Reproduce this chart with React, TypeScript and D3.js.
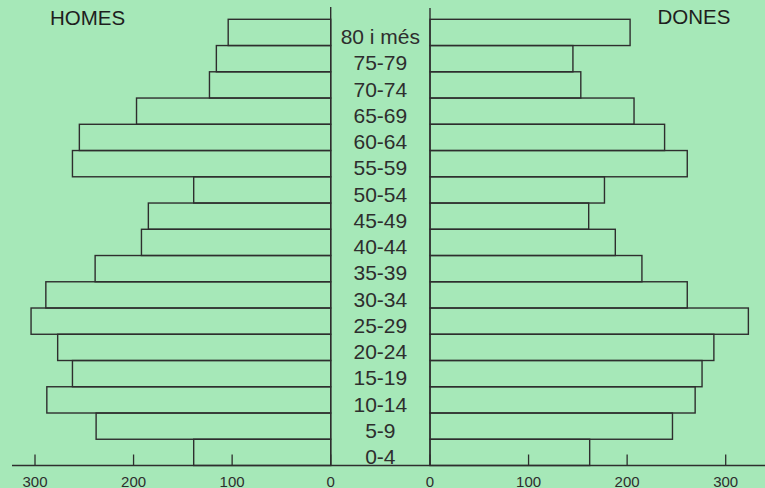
import React from "react";
import * as d3 from "d3";

const ageGroups = ["80 i més", "75-79", "70-74", "65-69", "60-64", "55-59", "50-54", "45-49", "40-44", "35-39", "30-34", "25-29", "20-24", "15-19", "10-14", "5-9", "0-4"];
const homes = [104, 116, 123, 197, 255, 262, 139, 185, 192, 239, 289, 304, 277, 262, 288, 238, 139];
const dones = [203, 145, 153, 207, 238, 261, 177, 161, 188, 215, 261, 323, 288, 276, 269, 246, 162];
const tickValues = [0, 100, 200, 300];

const W = 765;
const H = 488;
const FONT = "'Liberation Sans', Arial, Helvetica, sans-serif";
const INK = "#2e2e2e";
const BG = "#a6e8b8";

export default function App() {
  React.useEffect(() => {
    document.body.style.margin = "0";
    document.body.style.background = BG;
  }, []);

  const baseY = 465.5;
  const y = d3.scaleBand<string>().domain(ageGroups).range([19.3, baseY]).padding(0);
  const xL = d3.scaleLinear().domain([0, 300]).range([330.7, 35]);
  const xR = d3.scaleLinear().domain([0, 300]).range([430, 725.7]);
  const midX = (xL(0) + xR(0)) / 2;

  return (
    <svg width={W} height={H} style={{ position: "absolute", left: 0, top: 0, display: "block" }}>
      <rect x={0} y={0} width={W} height={H} fill={BG} />
      {/* bars */}
      {ageGroups.map((g, i) => (
        <g key={g}>
          <rect
            x={xL(homes[i])}
            y={y(g)}
            width={xL(0) - xL(homes[i])}
            height={y.bandwidth()}
            fill="none"
            stroke={INK}
            strokeWidth={1.4}
          />
          <rect
            x={xR(0)}
            y={y(g)}
            width={xR(dones[i]) - xR(0)}
            height={y.bandwidth()}
            fill="none"
            stroke={INK}
            strokeWidth={1.4}
          />
          <text
            x={midX}
            y={(y(g) as number) + y.bandwidth() - 1.3}
            textAnchor="middle"
            fontFamily={FONT}
            fontSize={21}
            fill={INK}
          >
            {g}
          </text>
        </g>
      ))}
      {/* vertical axes */}
      <line x1={xL(0)} x2={xL(0)} y1={7} y2={baseY} stroke={INK} strokeWidth={1.4} />
      <line x1={xR(0)} x2={xR(0)} y1={8} y2={baseY} stroke={INK} strokeWidth={1.4} />
      {/* baseline */}
      <line x1={12} x2={W} y1={baseY} y2={baseY} stroke={INK} strokeWidth={1.6} />
      {/* ticks */}
      {tickValues.map((t) => (
        <g key={"l" + t}>
          <line x1={xL(t)} x2={xL(t)} y1={baseY - 11} y2={baseY} stroke={INK} strokeWidth={1.3} />
          <text x={xL(t)} y={486.5} textAnchor="middle" fontFamily={FONT} fontSize={15} fill={INK}>
            {t}
          </text>
        </g>
      ))}
      {tickValues.map((t) => (
        <g key={"r" + t}>
          <line x1={xR(t)} x2={xR(t)} y1={baseY - 11} y2={baseY} stroke={INK} strokeWidth={1.3} />
          <text x={xR(t)} y={486.5} textAnchor="middle" fontFamily={FONT} fontSize={15} fill={INK}>
            {t}
          </text>
        </g>
      ))}
      {/* titles */}
      <text x={50} y={25} fontFamily={FONT} fontSize={20.5} fill="#1e1e1e">
        HOMES
      </text>
      <text x={657.5} y={23.5} fontFamily={FONT} fontSize={20.5} fill="#1e1e1e">
        DONES
      </text>
    </svg>
  );
}
